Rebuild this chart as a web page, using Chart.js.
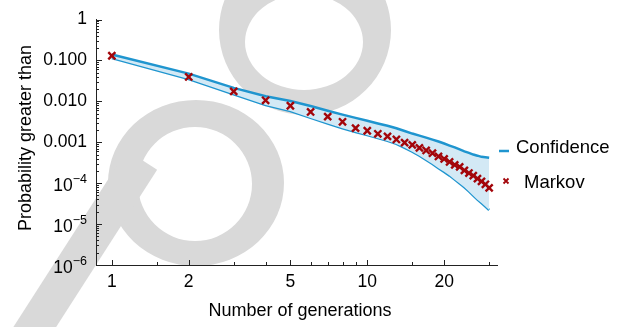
<!DOCTYPE html>
<html>
<head>
<meta charset="utf-8">
<script src="https://cdn.jsdelivr.net/npm/chart.js@4.4.0/dist/chart.umd.min.js"></script>
<style>
  html, body { margin: 0; padding: 0; background: #fff; }
  #wrap { width: 621px; height: 327px; }
</style>
</head>
<body>
<div id="wrap"><canvas id="chart" width="621" height="327"></canvas></div>
<script>
// data
const generations = [1, 2, 3, 4, 5, 6, 7, 8, 9, 10, 11, 12, 13, 14, 15, 16, 17, 18, 19, 20, 21, 22, 23, 24, 25, 26, 27, 28, 29, 30];
const markov = [0.13, 0.0394, 0.0175, 0.0106, 0.0078, 0.0055, 0.00424, 0.00316, 0.00222, 0.00191,
    0.00161, 0.00139, 0.00117, 0.00098, 0.00086, 0.00073, 0.00063, 0.00054, 0.00045, 0.00039,
    0.00033, 0.00028, 0.00025, 0.000205, 0.000177, 0.000153, 0.000129, 0.000111, 0.000094, 0.0000766];
const confUpper = [0.14, 0.0476, 0.0213, 0.0133, 0.0102, 0.0077, 0.0059, 0.00474, 0.00394, 0.00334,
    0.00288, 0.00252, 0.00219, 0.00188, 0.00163, 0.00145, 0.0013, 0.00116, 0.00104, 0.00093,
    0.00083, 0.00075, 0.00067, 0.0006, 0.00055, 0.0005, 0.00047, 0.00044, 0.00043, 0.00042];
const confLower = [0.114, 0.0352, 0.0148, 0.0081, 0.00582, 0.00394, 0.00287, 0.00219, 0.00178, 0.00149,
    0.00126, 0.00108, 0.00091, 0.00073, 0.00059, 0.00047, 0.00037, 0.000295, 0.000232, 0.000189,
    0.000153, 0.000122, 0.0000984, 0.0000796, 0.000063, 0.0000495, 0.0000396, 0.0000326, 0.0000268, 0.0000221];

const xTicks = [1, 2, 5, 10, 20];
const xMinorTicks = [1.5, 3, 4, 6, 7, 8, 9, 15, 30];
const yTicks = [1, 0.1, 0.01, 0.001, 1e-4, 1e-5, 1e-6];
const yTickLabels = ['1', '0.100', '0.010', '0.001', '10^-4', '10^-5', '10^-6'];
const legendLabels = ['Confidence', 'Markov'];
const xTitle = 'Number of generations';
const yTitle = 'Probability greater than';

const FONT = '"Liberation Sans", Arial, sans-serif';
const BLUE = '#1f95cf';
const FILL = '#d3e9f5';
const RED = '#a3060b';
const AXIS = '#222';

const pts = arr => generations.map((g, i) => ({ x: g, y: arr[i] }));

// grey watermark shapes behind the plot
const watermark = {
    id: 'watermark',
    beforeDraw(chart) {
        const ctx = chart.ctx;
        ctx.save();
        ctx.fillStyle = '#fff';
        ctx.fillRect(0, 0, chart.width, chart.height);
        ctx.fillStyle = '#d9d9d9';
        ctx.beginPath();
        ctx.moveTo(305 + 86, 30);
        ctx.ellipse(305, 30, 86, 85, 0, 0, Math.PI * 2);
        ctx.moveTo(304 + 59, 42);
        ctx.ellipse(304, 42, 59, 48, 0, 0, Math.PI * 2);
        ctx.fill('evenodd');

        ctx.beginPath();
        ctx.moveTo(196 + 88, 183);
        ctx.ellipse(196, 183, 88, 83, 0, 0, Math.PI * 2);
        ctx.moveTo(195 + 57, 184);
        ctx.ellipse(195, 184, 57, 57, 0, 0, Math.PI * 2);
        ctx.fill('evenodd');

        ctx.strokeStyle = '#d9d9d9';
        ctx.lineWidth = 36;
        ctx.beginPath();
        ctx.moveTo(142, 160);
        ctx.lineTo(20, 350);
        ctx.stroke();
        ctx.restore();
    }
};

// inward tick marks, power labels, titles and legend
const decor = {
    id: 'decor',
    afterDraw(chart) {
        const { ctx, chartArea: a, scales: { x, y } } = chart;
        ctx.save();
        ctx.strokeStyle = AXIS;
        ctx.lineWidth = 1;
        ctx.beginPath();
        const xMark = (v, len) => {
            const px = Math.round(x.getPixelForValue(v)) + 0.5;
            ctx.moveTo(px, a.bottom); ctx.lineTo(px, a.bottom - len);
        };
        const yMark = (v, len) => {
            const py = Math.round(y.getPixelForValue(v)) + 0.5;
            ctx.moveTo(a.left, py); ctx.lineTo(a.left + len, py);
        };
        xTicks.forEach(v => xMark(v, 5));
        xMinorTicks.forEach(v => xMark(v, 3));
        yTicks.forEach(v => yMark(v, 6));
        yTicks.slice(1).forEach(d => {
            for (let k = 2; k <= 9; k++) yMark(d * k, 3);
        });
        ctx.stroke();

        // 10^-n labels
        ctx.fillStyle = '#000';
        ctx.textAlign = 'right';
        ctx.textBaseline = 'alphabetic';
        yTickLabels.forEach((lab, i) => {
            if (lab.indexOf('^') < 0) return;
            const [base, exp] = lab.split('^');
            const py = y.getPixelForValue(yTicks[i]);
            const right = a.left - 9;
            ctx.font = '12.5px ' + FONT;
            const expText = exp.replace('-', '\u2212');
            const w = ctx.measureText(expText).width;
            ctx.fillText(expText, right, py - 0.5);
            ctx.font = '17.5px ' + FONT;
            ctx.fillText(base, right - w, py + 7.5);
        });

        // axis titles
        ctx.font = '18px ' + FONT;
        ctx.textAlign = 'center';
        ctx.fillText(xTitle, 300, 316);
        ctx.save();
        ctx.translate(31, 138);
        ctx.rotate(-Math.PI / 2);
        ctx.fillText(yTitle, 0, 0);
        ctx.restore();

        // legend
        ctx.strokeStyle = BLUE;
        ctx.lineWidth = 2.5;
        ctx.beginPath();
        ctx.moveTo(499, 151); ctx.lineTo(509, 151);
        ctx.stroke();
        ctx.strokeStyle = RED;
        ctx.lineWidth = 1.8;
        ctx.beginPath();
        ctx.moveTo(503.5, 178.5); ctx.lineTo(508.5, 183.5);
        ctx.moveTo(508.5, 178.5); ctx.lineTo(503.5, 183.5);
        ctx.stroke();
        ctx.font = '18.5px ' + FONT;
        ctx.textAlign = 'left';
        ctx.fillText(legendLabels[0], 516, 153);
        ctx.fillText(legendLabels[1], 524, 188);
        ctx.restore();
    }
};

new Chart(document.getElementById('chart'), {
    type: 'line',
    data: {
        datasets: [
            { label: legendLabels[0], data: pts(confUpper), borderColor: BLUE, backgroundColor: FILL,
              borderWidth: 2.5, pointRadius: 0, fill: '+1', tension: 0, order: 2 },
            { label: legendLabels[0] + ' lower', data: pts(confLower), borderColor: BLUE,
              borderWidth: 2.5, pointRadius: 0, fill: false, tension: 0, order: 2 },
            { label: legendLabels[1], data: pts(markov), showLine: false, pointStyle: 'crossRot',
              pointRadius: 5, pointBorderWidth: 2.4, borderColor: RED, backgroundColor: RED, order: 1 }
        ]
    },
    options: {
        responsive: false,
        animation: false,
        devicePixelRatio: 1,
        layout: { padding: { top: 17, right: 124, left: 0, bottom: 0 } },
        plugins: { legend: { display: false }, tooltip: { enabled: false } },
        scales: {
            x: {
                type: 'logarithmic', min: 0.867, max: 32.2,
                grid: { display: false, drawTicks: false },
                border: { display: true, color: AXIS, width: 1 },
                afterBuildTicks: s => { s.ticks = xTicks.map(v => ({ value: v })); },
                afterFit: s => { s.height = 62; },
                ticks: { autoSkip: false, maxRotation: 0, padding: 7, color: '#000',
                         font: { family: FONT, size: 17.5 }, callback: v => String(v) }
            },
            y: {
                type: 'logarithmic', min: 1e-6, max: 1,
                grid: { display: false, drawTicks: false },
                border: { display: true, color: AXIS, width: 1 },
                afterBuildTicks: s => { s.ticks = yTicks.map(v => ({ value: v })); },
                afterFit: s => { s.width = 96; },
                ticks: { autoSkip: false, padding: 9, color: '#000',
                         font: { family: FONT, size: 17.5 },
                         callback: (v, i) => yTickLabels[i].indexOf('^') < 0 ? yTickLabels[i] : '' }
            }
        }
    },
    plugins: [watermark, decor]
});
</script>
</body>
</html>
